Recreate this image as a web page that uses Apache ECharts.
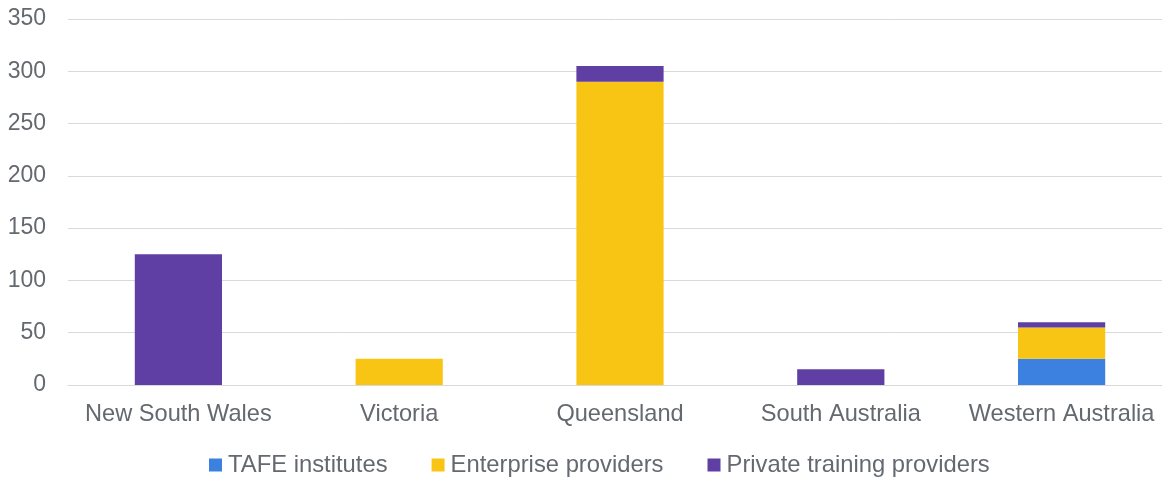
<!DOCTYPE html>
<html><head><meta charset="utf-8">
<script src="https://cdn.jsdelivr.net/npm/echarts@6/dist/echarts.min.js"></script>
<style>html,body{margin:0;padding:0;background:#fff}#c{width:1162px;height:478px}</style>
</head><body><div id="c"></div>
<script>
const categories = ['New South Wales','Victoria','Queensland','South Australia','Western Australia'];
const tafe = [0, 0, 0, 0, 25];
const enterprise = [0, 25, 290, 0, 30];
const privateProviders = [125, 0, 15, 15, 5];
const seriesNames = ['TAFE institutes','Enterprise providers','Private training providers'];
const colors = ['#3c80e0','#f9c515','#5f3fa3'];
const font = 'Liberation Sans, Arial, sans-serif';
const txt = '#646970';
const chart = echarts.init(document.getElementById('c'));
const mk = (name, data, color) => ({
  name, type:'bar', stack:'s', data, barWidth:'39.5%',
  itemStyle:{color}, emphasis:{disabled:true}
});
chart.setOption({
  animation:false,
  textStyle:{fontFamily:font},
  grid:{left:68, width:1104, top:19, bottom:93, outerBoundsMode:'none', containLabel:false},
  legend:{top:448, left:204, itemWidth:13, itemHeight:13, itemGap:44,
    icon:'rect', textStyle:{fontSize:23.8, color:txt, fontFamily:font, padding:[0,0,0,1]},
    data:seriesNames},
  xAxis:{type:'category', data:categories,
    axisLine:{lineStyle:{color:'#d9d9d9', width:1}}, axisTick:{show:false},
    axisLabel:{fontSize:23.6, color:txt, margin:17, fontFamily:font, interval:0}},
  yAxis:{type:'value', min:0, max:350, interval:50,
    axisLine:{show:false}, axisTick:{show:false},
    splitLine:{lineStyle:{color:'#d9d9d9', width:1}},
    axisLabel:{fontSize:23, color:txt, margin:22, fontFamily:font}},
  series:[mk(seriesNames[0], tafe, colors[0]), mk(seriesNames[1], enterprise, colors[1]), mk(seriesNames[2], privateProviders, colors[2])]
});
</script></body></html>
